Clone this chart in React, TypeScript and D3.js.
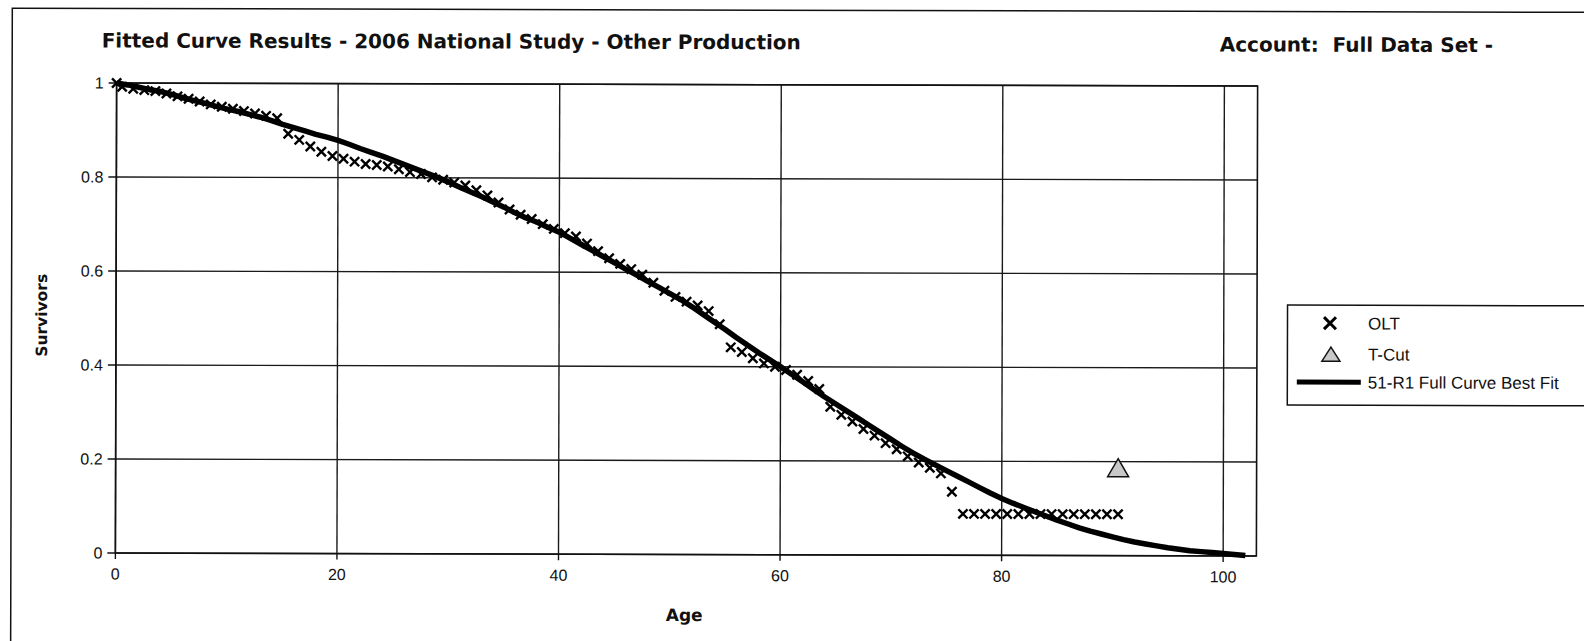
import React from 'react';
import * as d3 from 'd3';

// Original Life Table points (age, fraction surviving)
const oltAges = [
  0, 0.5, 1.5, 2.5, 3.5, 4.5, 5.5, 6.5, 7.5, 8.5, 9.5, 10.5, 11.5, 12.5, 13.5, 14.5,
  15.5, 16.5, 17.5, 18.5, 19.5, 20.5, 21.5, 22.5, 23.5, 24.5, 25.5, 26.5, 27.5, 28.5, 29.5,
  30.5, 31.5, 32.5, 33.5, 34.5, 35.5, 36.5, 37.5, 38.5, 39.5, 40.5, 41.5, 42.5, 43.5, 44.5,
  45.5, 46.5, 47.5, 48.5, 49.5, 50.5, 51.5, 52.5, 53.5, 54.5, 55.5, 56.5, 57.5, 58.5, 59.5,
  60.5, 61.5, 62.5, 63.5, 64.5, 65.5, 66.5, 67.5, 68.5, 69.5, 70.5, 71.5, 72.5, 73.5, 74.5,
  75.5, 76.5, 77.5, 78.5, 79.5, 80.5, 81.5, 82.5, 83.5, 84.5, 85.5, 86.5, 87.5, 88.5, 89.5, 90.5,
];
const oltValues = [
  1.0, 0.992, 0.988, 0.985, 0.983, 0.978, 0.972, 0.967, 0.961, 0.955, 0.95, 0.946, 0.941, 0.936, 0.931, 0.926,
  0.893, 0.88, 0.866, 0.855, 0.846, 0.84, 0.834, 0.829, 0.827, 0.824, 0.818, 0.812, 0.808, 0.801, 0.796,
  0.79, 0.784, 0.774, 0.763, 0.748, 0.733, 0.722, 0.713, 0.702, 0.692, 0.683, 0.676, 0.661, 0.645, 0.63,
  0.618, 0.607, 0.595, 0.578, 0.561, 0.548, 0.538, 0.53, 0.518, 0.49, 0.441, 0.431, 0.418, 0.407, 0.4,
  0.393, 0.383, 0.37, 0.353, 0.315, 0.298, 0.284, 0.268, 0.254, 0.238, 0.225, 0.21, 0.197, 0.186, 0.174,
  0.135, 0.088, 0.088, 0.088, 0.088, 0.088, 0.088, 0.088, 0.088, 0.088, 0.088, 0.088, 0.088, 0.088, 0.088, 0.088,
];

// T-Cut point
const tCutAge = [90.5];
const tCutValue = [0.187];

// 51-R1 fitted curve
const fitAges = [
  0, 1, 2, 3, 4, 5, 6, 7, 8, 9, 10, 11, 12, 13, 14, 15, 16, 17, 18, 19, 20,
  21, 22, 23, 24, 25, 26, 27, 28, 29, 30, 31, 32, 33, 34, 35, 36, 37, 38, 39, 40,
  41, 42, 43, 44, 45, 46, 47, 48, 49, 50, 51, 52, 53, 54, 55, 56, 57, 58, 59, 60,
  61, 62, 63, 64, 65, 66, 67, 68, 69, 70, 71, 72, 73, 74, 75, 76, 77, 78, 79, 80,
  81, 82, 83, 84, 85, 86, 87, 88, 89, 90, 91, 92, 93, 94, 95, 96, 97, 98, 99, 100, 101, 102,
];
const fitValues = [
  1.0, 0.996, 0.991, 0.986, 0.982, 0.976, 0.969, 0.963, 0.957, 0.951, 0.945,
  0.94, 0.934, 0.928, 0.921, 0.913, 0.906, 0.899, 0.892, 0.886, 0.879,
  0.871, 0.862, 0.854, 0.846, 0.837, 0.828, 0.819, 0.81, 0.801, 0.791,
  0.78, 0.77, 0.76, 0.749, 0.738, 0.726, 0.715, 0.706, 0.695, 0.685,
  0.672, 0.659, 0.646, 0.633, 0.62, 0.607, 0.594, 0.581, 0.568, 0.555,
  0.542, 0.527, 0.511, 0.495, 0.479, 0.462, 0.446, 0.43, 0.415, 0.4,
  0.384, 0.368, 0.352, 0.336, 0.321, 0.306, 0.291, 0.276, 0.261, 0.246,
  0.231, 0.217, 0.204, 0.192, 0.18, 0.168, 0.156, 0.144, 0.132, 0.121,
  0.111, 0.102, 0.093, 0.084, 0.075, 0.067, 0.059, 0.052, 0.046, 0.04,
  0.034, 0.029, 0.025, 0.021, 0.017, 0.014, 0.011, 0.009, 0.007, 0.005, 0.003, 0.001,
];

const xTicks = [0, 20, 40, 60, 80, 100];
const yTicks = [0, 0.2, 0.4, 0.6, 0.8, 1];
const legendLabels = ['OLT', 'T-Cut', '51-R1 Full Curve Best Fit'];

const W = 1584;
const H = 641;
const plot = { left: 116, right: 1257, top: 84.5, bottom: 554.5 };

const titleFont = '"DejaVu Sans", Verdana, sans-serif';
const labelFont = '"Liberation Sans", Arial, sans-serif';

const xMark = (s: number) => `M${-s},${-s}L${s},${s}M${s},${-s}L${-s},${s}`;
const tri = (w: number, h: number) => `M0,${-h / 2}L${w / 2},${h / 2}L${-w / 2},${h / 2}Z`;

export default function App() {
  const x = d3.scaleLinear().domain([0, 103]).range([plot.left, plot.right]);
  const y = d3.scaleLinear().domain([0, 1]).range([plot.bottom, plot.top]);

  const olt = oltAges.map((a, i) => ({ a, v: oltValues[i] }));
  const fit = fitAges.map((a, i) => ({ a, v: fitValues[i] }));
  const line = d3
    .line<{ a: number; v: number }>()
    .x((d) => x(d.a))
    .y((d) => y(d.v));

  const legendY = [321.5, 352.5, 380.5];

  return (
    <svg
      width={W}
      height={H}
      style={{ position: 'absolute', left: 0, top: 0, background: '#fff' }}
    >
      <rect x={0} y={0} width={W} height={H} fill="#fff" />
      <g transform="rotate(0.15 686 320)">
        {/* outer frame */}
        <rect x={11.5} y={10} width={1600} height={700} fill="none" stroke="#111" strokeWidth={1.5} />

        <text x={101} y={49} fontFamily={titleFont} fontWeight="bold" fontSize={20} fill="#111">
          Fitted Curve Results - 2006 National Study - Other Production
        </text>
        <text x={1219} y={50} fontFamily={titleFont} fontWeight="bold" fontSize={20} fill="#111" xmlSpace="preserve">
          Account:  Full Data Set -
        </text>

        {/* gridlines */}
        {yTicks.map((t) => (
          <line key={'gy' + t} x1={plot.left} x2={plot.right} y1={y(t)} y2={y(t)} stroke="#1a1a1a" strokeWidth={1.4} />
        ))}
        {xTicks.map((t) => (
          <line key={'gx' + t} x1={x(t)} x2={x(t)} y1={plot.top} y2={plot.bottom} stroke="#1a1a1a" strokeWidth={1.4} />
        ))}
        <rect
          x={plot.left}
          y={plot.top}
          width={plot.right - plot.left}
          height={plot.bottom - plot.top}
          fill="none"
          stroke="#111"
          strokeWidth={1.6}
        />

        {/* axes ticks & labels */}
        {yTicks.map((t) => (
          <g key={'ty' + t}>
            <line x1={plot.left - 8} x2={plot.left} y1={y(t)} y2={y(t)} stroke="#111" strokeWidth={1.4} />
            <text
              x={plot.left - 13}
              y={y(t)}
              dy="0.35em"
              textAnchor="end"
              fontFamily={labelFont}
              fontSize={16}
              fill="#111"
            >
              {t}
            </text>
          </g>
        ))}
        {xTicks.map((t) => (
          <g key={'tx' + t}>
            <line x1={x(t)} x2={x(t)} y1={plot.bottom} y2={plot.bottom + 6} stroke="#111" strokeWidth={1.4} />
            <text x={x(t)} y={581} textAnchor="middle" fontFamily={labelFont} fontSize={16} fill="#111">
              {t}
            </text>
          </g>
        ))}

        <text x={685} y={621} textAnchor="middle" fontFamily={titleFont} fontWeight="bold" fontSize={17} fill="#111">
          Age
        </text>
        <text
          transform="translate(47 317) rotate(-90)"
          textAnchor="middle"
          fontFamily={titleFont}
          fontWeight="bold"
          fontSize={15.5}
          fill="#111"
        >
          Survivors
        </text>

        {/* fitted curve */}
        <path d={line(fit) ?? ''} fill="none" stroke="#000" strokeWidth={5.5} strokeLinejoin="round" />

        {/* OLT points */}
        {olt.map((d, i) => (
          <path
            key={'o' + i}
            d={xMark(4.6)}
            transform={`translate(${x(d.a)},${y(d.v)})`}
            stroke="#000"
            strokeWidth={2.4}
            fill="none"
          />
        ))}

        {/* T-Cut */}
        {tCutAge.map((a, i) => (
          <path
            key={'t' + i}
            d={tri(21, 18)}
            transform={`translate(${x(a)},${y(tCutValue[i])})`}
            fill="#c8c8c8"
            stroke="#111"
            strokeWidth={1.5}
          />
        ))}

        {/* legend */}
        <rect x={1287.5} y={303.5} width={400} height={100} fill="#fff" stroke="#111" strokeWidth={1.5} />
        <path d={xMark(6)} transform={`translate(1330,${legendY[0]})`} stroke="#000" strokeWidth={3} fill="none" />
        <path
          d={tri(18, 14)}
          transform={`translate(1331,${legendY[1]})`}
          fill="#c8c8c8"
          stroke="#111"
          strokeWidth={1.5}
        />
        <line x1={1297} x2={1361} y1={legendY[2]} y2={legendY[2]} stroke="#000" strokeWidth={5} />
        {legendLabels.map((l, i) => (
          <text key={l} x={1368} y={legendY[i]} dy="0.36em" fontFamily={labelFont} fontSize={17} fill="#111">
            {l}
          </text>
        ))}
      </g>
    </svg>
  );
}
